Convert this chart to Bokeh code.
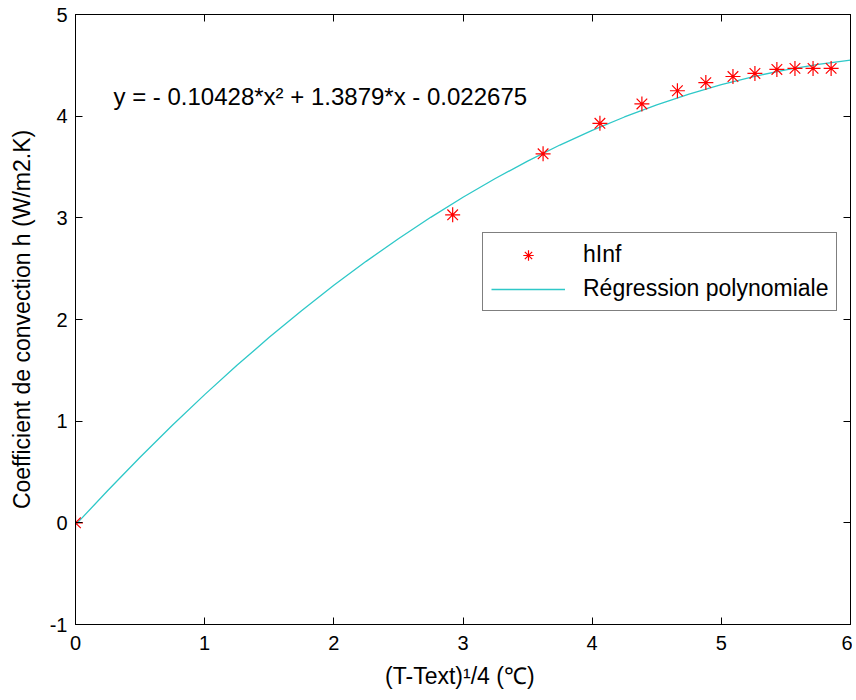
from bokeh.plotting import figure
from bokeh.models import LinearAxis, Range1d, Legend, LegendItem, FixedTicker
from bokeh.core.properties import value
from bokeh.embed import file_html
from bokeh.resources import INLINE

# measured points hInf
x_pts = [0.0, 2.92, 3.62, 4.06, 4.385, 4.66, 4.88, 5.09, 5.26, 5.43, 5.57, 5.71, 5.85]
h_pts = [0.0, 3.03, 3.63, 3.93, 4.12, 4.25, 4.33, 4.39, 4.42, 4.46, 4.47, 4.47, 4.47]

# regression curve
x_fit = [0.0, 0.25, 0.5, 0.75, 1.0, 1.25, 1.5, 1.75, 2.0, 2.25, 2.5, 2.75, 3.0,
         3.25, 3.5, 3.75, 4.0, 4.25, 4.5, 4.75, 5.0, 5.25, 5.5, 5.75, 6.0]
y_fit = [-0.02, 0.318, 0.645, 0.960, 1.261, 1.549, 1.825, 2.087, 2.336, 2.572, 2.795,
         3.005, 3.202, 3.387, 3.558, 3.716, 3.860, 3.992, 4.111, 4.217, 4.310, 4.390,
         4.456, 4.510, 4.551]

x_ticks = [0, 1, 2, 3, 4, 5, 6]
y_ticks = [-1, 0, 1, 2, 3, 4, 5]

equation = "y = - 0.10428*x² + 1.3879*x - 0.022675"
x_label = "(T-Text)¹/4  (℃)"
y_label = "Coefficient de convection h (W/m2.K)"
series_names = ["hInf", "Régression polynomiale"]

FONT = "Liberation Sans"
TICK_FS = "20px"
LABEL_FS = "23px"
TEXT_FS = "23px"
EQ_FS = "24px"

p = figure(width=852, height=696, output_backend="svg", toolbar_location=None,
           x_range=Range1d(0, 6), y_range=Range1d(-1, 5),
           min_border_left=75, min_border_right=2, min_border_top=14, min_border_bottom=72)
p.grid.visible = False
p.outline_line_color = "black"
p.outline_line_width = 1
p.background_fill_color = "white"
p.border_fill_color = "white"

line_r = p.line(x_fit, y_fit, line_color="#2ec8c8", line_width=1.3)
pts_r = p.scatter(x_pts, h_pts, marker="asterisk", size=15, line_color="red", line_width=1.2)

for ax in (p.xaxis[0], p.yaxis[0]):
    ax.major_label_text_font = FONT
    ax.major_label_text_font_size = TICK_FS
    ax.major_label_text_color = "black"
    ax.axis_label_text_font = FONT
    ax.axis_label_text_font_size = LABEL_FS
    ax.axis_label_text_font_style = "normal"
    ax.axis_label_text_color = "black"
    ax.major_tick_in = 7
    ax.major_tick_out = 0
    ax.minor_tick_in = 0
    ax.minor_tick_out = 0
    ax.axis_line_color = "black"
    ax.major_tick_line_color = "black"

p.xaxis[0].ticker = FixedTicker(ticks=x_ticks)
p.yaxis[0].ticker = FixedTicker(ticks=y_ticks)
p.yaxis[0].major_label_overrides = {-1: "-1"}
p.xaxis[0].axis_label = x_label
p.yaxis[0].axis_label = y_label
p.xaxis[0].major_label_standoff = 11
p.yaxis[0].major_label_standoff = 8
p.xaxis[0].axis_label_standoff = 10
p.yaxis[0].axis_label_standoff = 12

for loc, ticks in (("right", y_ticks), ("above", x_ticks)):
    ax = LinearAxis(ticker=FixedTicker(ticks=ticks))
    ax.major_label_text_font_size = "0px"
    ax.major_label_text_color = None
    ax.major_tick_in = 7
    ax.major_tick_out = 0
    ax.minor_tick_in = 0
    ax.minor_tick_out = 0
    ax.axis_line_color = "black"
    ax.major_tick_line_color = "black"
    ax.major_label_standoff = 0
    p.add_layout(ax, loc)

p.text(x=[0.294], y=[4.19], text=[equation], text_font=value(FONT),
       text_font_size=EQ_FS, text_baseline="middle", text_align="left", text_color="black")

legend = Legend(items=[LegendItem(label=series_names[0], renderers=[pts_r]),
                       LegendItem(label=series_names[1], renderers=[line_r])],
                location=(407, 313))
legend.label_text_font = FONT
legend.label_text_font_size = TEXT_FS
legend.label_text_color = "black"
legend.glyph_width = 74
legend.glyph_height = 26
legend.label_height = 26
legend.label_standoff = 18
legend.padding = 8
legend.spacing = 7
legend.margin = 0
legend.border_line_color = "black"
legend.border_line_width = 1
legend.background_fill_color = "white"
legend.background_fill_alpha = 1
p.add_layout(legend, "center")

open("out.html", "w").write(file_html(p, INLINE))
